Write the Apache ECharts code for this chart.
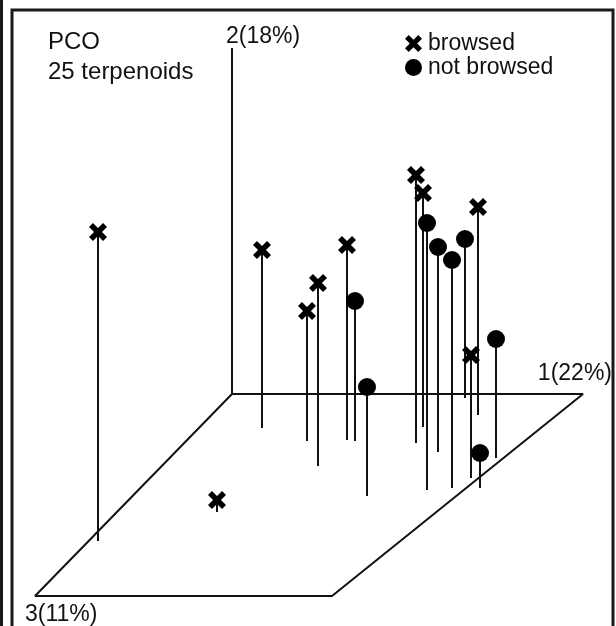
<!DOCTYPE html>
<html><head><meta charset="utf-8">
<script src="https://cdn.jsdelivr.net/npm/echarts@6/dist/echarts.min.js"></script>
<style>html,body{margin:0;padding:0;background:#fff}#c{width:616px;height:626px}</style>
</head><body><div id="c"></div><script>
// Projected plot coordinates (origin = corner where axis 2 meets the floor)
const browsedX    = [-134, 30, 75, 86, 115, 184, 191, 246, 239, -15];
const browsedTop  = [162, 144, 83, 111, 149, 219, 201, 187, 39, -106];
const browsedBase = [-147, -34, -47, -72, -46, -49, -33, -21, -84, -118];

const notBrowsedX    = [123, 135, 195, 206, 220, 233, 264, 248];
const notBrowsedTop  = [93, 7, 171, 147, 134, 155, 55, -59];
const notBrowsedBase = [-47, -102, -96, -58, -94, -4, -64, -94];

const floorCorners = [[0, 0], [351, 0], [100, -202], [-197, -202], [0, 0]];
const axis2 = [[0, 0], [0, 346]];

const axisLabels = ['1(22%)', '2(18%)', '3(11%)'];
const titleLines = ['PCO', '25 terpenoids'];
const seriesNames = ['browsed', 'not browsed'];

const crossPath = 'path://M0,2.2L2.2,0L5,2.8L7.8,0L10,2.2L7.2,5L10,7.8L7.8,10L5,7.2L2.2,10L0,7.8L2.8,5Z';
const FONT = "'Liberation Sans', Arial, sans-serif";

const stemData = [];
browsedX.forEach((x, i) => stemData.push([x, browsedTop[i], browsedBase[i]]));
notBrowsedX.forEach((x, i) => stemData.push([x, notBrowsedTop[i], notBrowsedBase[i]]));

const chart = echarts.init(document.getElementById('c'));
chart.setOption({
  animation: false,
  backgroundColor: '#fff',
  grid: { left: 0, right: 0, top: 0, bottom: 0 },
  xAxis: { type: 'value', min: -232, max: 384, show: false },
  yAxis: { type: 'value', min: -232, max: 394, show: false },
  legend: {
    orient: 'vertical', left: 400, top: 27, itemGap: 1,
    itemWidth: 17, itemHeight: 17, itemStyle: {color: '#000'},
    textStyle: { fontFamily: FONT, fontSize: 23, color: '#111', padding: [0,0,0,1] },
    data: [
      { name: seriesNames[0], icon: crossPath },
      { name: seriesNames[1], icon: 'circle' }
    ]
  },
  graphic: [
    { type: 'rect', shape: { x: 12, y: 10, width: 601, height: 640 }, style: { fill: 'none', stroke: '#1a1a1a', lineWidth: 3 }, silent: true },
    { type: 'line', shape: { x1: 1.5, y1: 0, x2: 1.5, y2: 626 }, style: { stroke: '#1a1a1a', lineWidth: 3 }, silent: true },
    { type: 'text', left: 48, top: 30, style: { text: titleLines[0], font: '24px ' + FONT, fill: '#111' } },
    { type: 'text', left: 48, top: 60, style: { text: titleLines[1], font: '24px ' + FONT, fill: '#111' } },
    { type: 'text', left: 226, top: 25, style: { text: axisLabels[1], font: '23px ' + FONT, fill: '#111' } },
    { type: 'text', right: 4, top: 362, style: { text: axisLabels[0], font: '23px ' + FONT, fill: '#111' } },
    { type: 'text', left: 25, top: 603, style: { text: axisLabels[2], font: '23px ' + FONT, fill: '#111' } }
  ],
  series: [
    { type: 'line', data: floorCorners, symbol: 'none', z: 1, lineStyle: { color: '#111', width: 2 } },
    { type: 'line', data: axis2, symbol: 'none', z: 1, lineStyle: { color: '#111', width: 2 } },
    {
      type: 'custom', z: 2, data: stemData, encode: { x: 0, y: [1, 2] },
      renderItem: function (params, api) {
        const p1 = api.coord([api.value(0), api.value(1)]);
        const p2 = api.coord([api.value(0), api.value(2)]);
        return { type: 'line', shape: { x1: p1[0], y1: p1[1], x2: p2[0], y2: p2[1] }, style: { stroke: '#111', lineWidth: 2 } };
      }
    },
    {
      name: seriesNames[0], type: 'scatter', z: 3, symbol: crossPath, symbolSize: 18,
      itemStyle: { color: '#000', opacity: 1 },
      data: browsedX.map((x, i) => [x, browsedTop[i]])
    },
    {
      name: seriesNames[1], type: 'scatter', z: 3, symbol: 'circle', symbolSize: 18,
      itemStyle: { color: '#000', opacity: 1 },
      data: notBrowsedX.map((x, i) => [x, notBrowsedTop[i]])
    }
  ]
});
</script></body></html>
